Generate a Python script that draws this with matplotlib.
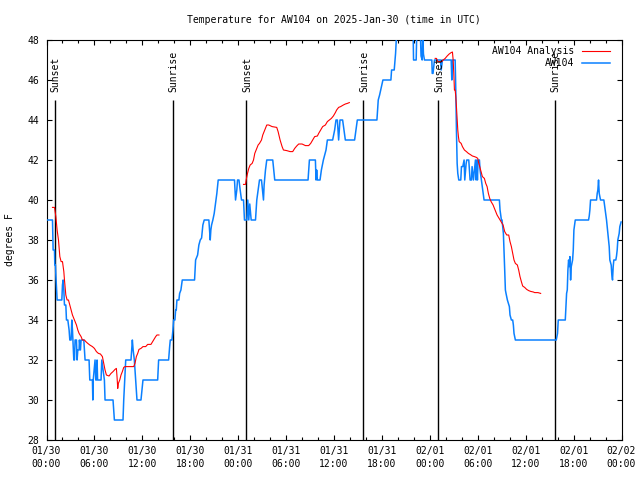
import numpy as np
import matplotlib
matplotlib.use("Agg")
import matplotlib.pyplot as plt
from matplotlib.ticker import MultipleLocator, FixedLocator

# ---------------- data (hours since 2025-01-30 00:00 UTC) ----------------
obs_hours = [0.0, 0.75, 0.83, 1.0, 1.04, 1.12, 1.17, 1.33, 1.92, 2.0, 2.08, 2.17, 2.25, 2.42, 2.5, 2.67,
             2.83, 2.92, 3.08, 3.17, 3.25, 3.42, 3.5, 3.58, 3.75, 3.83, 3.92, 4.08, 4.12, 4.25, 4.33,
             4.67, 4.83, 5.33, 5.42, 5.75, 5.8, 5.85, 6.08, 6.17, 6.25, 6.33, 6.4, 6.83, 6.92, 7.08,
             7.25, 7.33, 8.33, 8.5, 9.58, 9.67, 9.92, 10.58, 10.75, 10.85, 11.0, 11.17, 11.33, 11.83,
             12.08, 13.92, 14.04, 15.29, 15.42, 15.5, 15.71, 15.83, 15.92, 16.08, 16.17, 16.25, 16.33,
             16.58, 16.67, 16.83, 17.0, 18.54, 18.67, 18.92, 19.08, 19.25, 19.42, 19.58, 19.75, 20.33,
             20.42, 20.5, 20.58, 20.67, 20.83, 21.0, 21.17, 21.33, 21.5, 23.54, 23.67, 23.83, 23.92,
             24.1, 24.25, 24.42, 24.67, 24.79, 25.08, 25.2, 25.33, 25.45, 25.63, 26.17, 26.33, 26.5,
             26.67, 26.92, 27.05, 27.17, 27.25, 27.42, 27.58, 28.33, 28.58, 32.75, 32.92, 33.67,
             33.75, 33.83, 33.92, 34.25, 34.42, 34.67, 35.0, 35.17, 35.83, 36.08, 36.25, 36.42, 36.58,
             36.75, 37.08, 37.25, 37.42, 38.58, 38.75, 38.92, 41.375, 41.54, 41.71, 42.125, 43.125,
             43.21, 43.54, 43.71, 43.875, 45.9, 45.96, 46.29, 46.375, 46.79, 46.9, 47.04, 47.1, 47.2,
             47.33, 48.25, 48.3, 48.4, 48.58, 49.33, 49.42, 49.58, 50.67, 50.75, 50.83, 51.17, 51.25,
             51.33, 51.42, 51.5, 51.625, 51.875, 51.96, 52.125, 52.29, 52.375, 52.54, 52.625, 52.875,
             52.96, 53.04, 53.21, 53.29, 53.46, 53.625, 53.71, 53.79, 53.875, 53.96, 54.04, 54.21,
             54.29, 54.46, 54.625, 54.79, 56.71, 56.79, 56.96, 57.04, 57.21, 57.29, 57.375, 57.46,
             57.54, 57.71, 57.96, 58.04, 58.21, 58.375, 58.46, 58.54, 58.71, 63.83, 63.99, 64.08,
             64.96, 65.04, 65.125, 65.21, 65.29, 65.375, 65.46, 65.54, 65.625, 65.71, 65.875, 65.96,
             66.04, 66.21, 67.875, 67.96, 68.04, 68.125, 68.875, 68.96, 69.04, 69.125, 69.21, 69.375,
             69.79, 69.96, 70.125, 70.29, 70.46, 70.54, 70.71, 70.79, 70.875, 70.96, 71.04, 71.29,
             71.375, 71.46, 71.54, 71.71, 71.79, 71.95]
obs_temps = [39, 39, 37.5, 37.5, 36.75, 36.75, 36.25, 35, 35, 35.75, 36, 35.5, 34.75, 34.75, 34, 34,
             33.5, 33, 33, 34, 33.5, 32, 32, 33, 33, 32, 32.5, 32.5, 33, 32.5, 33,
             33, 32, 32, 31, 31, 30, 31, 32, 31, 31, 32, 31, 31, 32, 31.5,
             31, 30, 30, 29, 29, 30, 32, 32, 33, 32.5, 32, 31, 30, 30,
             31, 31, 32, 32, 32.67, 33, 33, 33.5, 34, 34, 34.5, 34.5, 35,
             35, 35.33, 35.5, 36, 36, 37, 37.25, 37.75, 38, 38.1, 38.75, 39, 39,
             38.5, 38, 38.5, 38.75, 39, 39.33, 39.83, 40.33, 41, 41, 40, 40.5, 41,
             41, 40.5, 40, 40, 39, 39, 40, 39, 39.8, 39, 39, 40, 40.5,
             41, 41, 40.5, 40, 40.75, 41.5, 42, 42, 41, 41, 42, 42,
             41, 41.5, 41, 41, 41.5, 42, 42.5, 43, 43, 43.5, 44, 44, 43,
             44, 44, 43.5, 43, 43, 43.5, 44, 44, 45, 45.25, 46, 46,
             46.5, 46.5, 47.33, 48.6, 48.6, 47, 47, 48.6, 48.6, 47.2, 47, 48.6, 47.3,
             47, 47, 46.33, 46.33, 47, 47, 46.5, 47, 47, 46, 47, 47, 45.5,
             43.5, 41.83, 41.33, 41, 41, 41.67, 41.67, 42, 41, 41.8, 42, 42,
             41.5, 41, 41, 41.67, 41, 41.67, 42, 41, 42, 41, 42, 42,
             41.5, 41, 40.5, 40, 40, 39.5, 39, 39, 38.33, 37.5, 36.5, 35.5,
             35.33, 35, 34.67, 34.25, 34, 34, 33.75, 33.33, 33, 33, 33.33, 34,
             34, 34.67, 35.33, 35.5, 36.5, 37, 36.67, 37.17, 36, 36.67, 37, 37.5,
             38.5, 39, 39, 39.2, 39.5, 40, 40, 40.33, 40.5, 41, 40.33, 40,
             40, 39.5, 39, 38.33, 37.67, 37, 36.75, 36.25, 36, 36.67, 37, 37,
             37.2, 37.5, 38, 38.33, 38.67, 38.9]

ana_hours = [0.75, 1.0, 1.08, 1.17, 1.25, 1.33, 1.5, 1.58, 1.67, 1.83, 2.0, 2.08, 2.17, 2.25, 2.33,
             2.42, 2.58, 2.75, 2.92, 3.08, 3.25, 3.5, 3.75, 3.92, 4.08, 4.33, 4.5, 4.75, 4.92, 5.17,
             5.42, 5.75, 6.0, 6.25, 6.5, 6.75, 7.0, 7.17, 7.33, 7.5, 7.83, 8.08, 8.33, 8.58, 8.75,
             8.83, 8.92, 9.0, 9.17, 9.33, 9.5, 9.67, 9.83, 10.92, 11.08, 11.25, 11.42, 11.58, 11.83,
             12.08, 12.42, 12.67, 13.08, 13.42, 13.67, 13.83, 14.08,
             np.nan,
             24.67, 24.92, 25.0, 25.17, 25.33, 25.5, 25.75, 25.92, 26.08, 26.33, 26.5, 26.67, 26.92,
             27.08, 27.25, 27.42, 27.58, 27.83, 28.25, 28.83, 29.0, 29.25, 29.5, 29.67, 30.08, 30.5,
             30.83, 31.08, 31.33, 31.58, 32.0, 32.42, 32.83, 33.08, 33.33, 33.58, 33.92, 34.08, 34.33,
             34.58, 34.92, 35.17, 35.42, 35.67, 35.92, 36.17, 36.33, 36.58, 36.83, 37.17, 37.42,
             37.67, 37.92,
             np.nan,
             48.67, 48.83, 49.0, 49.5, 49.67, 49.92, 50.17, 50.42, 50.67, 50.83, 50.92, 51.0, 51.08,
             51.17, 51.25, 51.33, 51.42, 51.5, 51.58, 51.67, 51.92, 52.08, 52.33, 52.58, 52.83, 53.08,
             53.33, 53.58, 53.83, 54.0, 54.08, 54.25, 54.42, 54.58, 54.83, 55.0, 55.17, 55.33, 55.5,
             55.67, 55.92, 56.17, 56.42, 56.67, 56.92, 57.17, 57.375, 57.625, 57.875, 58.04, 58.21,
             58.375, 58.54, 58.71, 58.96, 59.125, 59.29, 59.46, 59.625, 59.875, 60.125, 60.375,
             60.625, 60.96, 61.125, 61.54, 61.875]
ana_temps = [39.63, 39.63, 39.42, 39.17, 38.83, 38.5, 38.0, 37.58, 37.17, 36.92, 36.92, 36.67, 36.42,
             36.0, 35.67, 35.25, 35.0, 35.0, 34.75, 34.5, 34.25, 34.0, 33.75, 33.5, 33.33, 33.17, 33.0,
             33.0, 32.92, 32.83, 32.75, 32.67, 32.58, 32.42, 32.33, 32.3, 32.17, 31.83, 31.5, 31.25,
             31.2, 31.33, 31.42, 31.53, 31.58, 31.17, 30.58, 30.83, 31.0, 31.25, 31.42, 31.63, 31.67,
             31.67, 31.83, 32.17, 32.33, 32.53, 32.58, 32.67, 32.67, 32.78, 32.78, 33.0, 33.17, 33.25,
             33.25,
             np.nan,
             40.78, 40.78, 41.0, 41.33, 41.58, 41.75, 41.83, 42.0, 42.33, 42.58, 42.75, 42.83, 43.0,
             43.25, 43.42, 43.58, 43.75, 43.75, 43.67, 43.63, 43.42, 43.0, 42.67, 42.5, 42.47, 42.42,
             42.42, 42.58, 42.7, 42.8, 42.8, 42.72, 42.72, 42.83, 43.0, 43.17, 43.2, 43.33, 43.5,
             43.67, 43.75, 43.92, 44.0, 44.08, 44.2, 44.37, 44.5, 44.63, 44.67, 44.75, 44.8, 44.83,
             44.87,
             np.nan,
             47.08, 47.08, 46.92, 46.92, 47.0, 47.08, 47.2, 47.3, 47.37, 47.4, 47.0, 46.33, 45.5,
             45.5, 45.17, 44.67, 44.0, 43.5, 43.17, 42.92, 42.83, 42.67, 42.5, 42.42, 42.33, 42.27,
             42.2, 42.17, 42.13, 42.08, 41.92, 41.67, 41.42, 41.17, 41.08, 40.83, 40.67, 40.33, 40.08,
             39.92, 39.75, 39.5, 39.25, 39.08, 38.92, 38.75, 38.42, 38.25, 38.25, 37.92, 37.67,
             37.33, 37.0, 36.83, 36.75, 36.5, 36.17, 35.92, 35.7, 35.63, 35.53, 35.47,
             35.43, 35.4, 35.37, 35.37, 35.33]

sun_hours = [1.03, 15.78, 25.04, 39.66, 49.05, 63.66]
sun_labels = ["Sunset", "Sunrise", "Sunset", "Sunrise", "Sunset", "Sunrise"]

tick_hours = [0, 6, 12, 18, 24, 30, 36, 42, 48, 54, 60, 66, 72]
tick_labels = ["01/30\n00:00", "01/30\n06:00", "01/30\n12:00", "01/30\n18:00",
               "01/31\n00:00", "01/31\n06:00", "01/31\n12:00", "01/31\n18:00",
               "02/01\n00:00", "02/01\n06:00", "02/01\n12:00", "02/01\n18:00",
               "02/02\n00:00"]

# ---------------- plotting ----------------
FONT = "DejaVu Sans Mono"
FS = 7.0
plt.rcParams["font.family"] = FONT
plt.rcParams["font.size"] = FS

fig = plt.figure(figsize=(6.4, 4.8), dpi=100)
ax = fig.add_axes([46.5 / 640, 1 - 440 / 480, 575 / 640, 400 / 480])

ax.plot(obs_hours, obs_temps, color="#0a80ff", lw=1.1, label="AW104", zorder=3)
ax.plot(ana_hours, ana_temps, color="#ff0000", lw=0.8, label="AW104 Analysis", zorder=4)

for h, lab in zip(sun_hours, sun_labels):
    ax.vlines(h, 28, 45, color="black", lw=1.0, zorder=2)
    ax.text(h + 0.1, 45.4, lab, rotation=90, ha="center", va="bottom", fontsize=FS, zorder=5)

ax.set_xlim(0, 72)
ax.set_ylim(28, 48)
ax.xaxis.set_major_locator(FixedLocator(tick_hours))
ax.set_xticklabels(tick_labels, linespacing=1.4)
ax.xaxis.set_minor_locator(MultipleLocator(2))
ax.yaxis.set_major_locator(MultipleLocator(2))

ax.tick_params(axis="both", which="both", direction="in", top=True, right=True,
               width=0.8, colors="black")
ax.tick_params(axis="x", which="major", length=3.4, pad=4.5)
ax.tick_params(axis="x", which="minor", length=2.0)
ax.tick_params(axis="y", which="major", length=3.6, pad=5.5)
for s in ax.spines.values():
    s.set_linewidth(0.8)

ax.set_title("Temperature for AW104 on 2025-Jan-30 (time in UTC)", fontsize=FS, pad=12)
fig.text(10 / 640, 0.5, "degrees F", rotation=90, ha="center", va="center", fontsize=FS)

h_obs, h_ana = ax.get_legend_handles_labels()[0]
leg = ax.legend([h_ana, h_obs], ["AW104 Analysis", "AW104"], loc="upper right",
                bbox_to_anchor=((610 - 46.5) / 575, (440 - 46.0) / 400),
                frameon=False, markerfirst=False, handlelength=2.9, handletextpad=0.8,
                labelspacing=0.2, borderaxespad=0, borderpad=0, fontsize=FS)
leg.set_zorder(6)

fig.savefig("out.png", dpi=100)
